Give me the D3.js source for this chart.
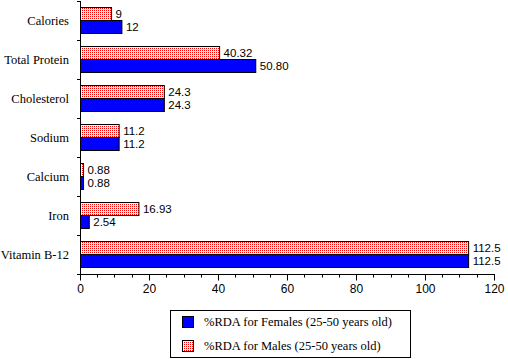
<!DOCTYPE html>
<html><head><meta charset="utf-8">
<script src="https://cdn.jsdelivr.net/npm/d3@7"></script>
<style>body{margin:0;background:#fff}svg{display:block}</style>
</head><body>
<svg id="c" width="508" height="359"></svg>
<script>
const categories = ["Calories","Total Protein","Cholesterol","Sodium","Calcium","Iron","Vitamin B-12"];
const femalesValues = [12, 50.80, 24.3, 11.2, 0.88, 2.54, 112.5];
const femalesLabels = ["12","50.80","24.3","11.2","0.88","2.54","112.5"];
const malesValues = [9, 40.32, 24.3, 11.2, 0.88, 16.93, 112.5];
const malesLabels = ["9","40.32","24.3","11.2","0.88","16.93","112.5"];
const xTicks = [0,20,40,60,80,100,120];
const xMinorTicks = d3.range(0,121,5);
const seriesNames = ["%RDA for Females (25-50 years old)","%RDA for Males (25-50 years old)"];

const svg = d3.select("#c");
const defs = svg.append("defs");
const pat = defs.append("pattern").attr("id","dots").attr("patternUnits","userSpaceOnUse")
  .attr("width",2).attr("height",2);
pat.append("rect").attr("width",2).attr("height",2).attr("fill","#fff");
pat.append("rect").attr("width",1).attr("height",1).attr("fill","#ff0000");

const x = d3.scaleLinear().domain([0,120]).range([80.5,494.5]);
const y = d3.scaleBand().domain(categories).range([1,274]).padding(0);
const sub = d3.scaleBand().domain(["m","f"]).range([6,32]).padding(0);

const serif = "'Liberation Serif','Times New Roman',serif";
const sans = "'Liberation Sans',Arial,sans-serif";

// bars
const g = svg.append("g");
categories.forEach((c,i)=>{
  const top = y(c);
  const ym = Math.round(top + sub("m")) + 0.5;
  const yf = Math.round(top + sub("f")) + 0.5;
  const h = sub.bandwidth();
  g.append("rect").attr("x",x(0)).attr("y",ym)
    .attr("width",Math.max(x(malesValues[i])-x(0),1)).attr("height",h)
    .attr("fill","url(#dots)").attr("stroke","#000").attr("stroke-width",1);
  g.append("rect").attr("x",x(0)).attr("y",yf)
    .attr("width",Math.max(x(femalesValues[i])-x(0),1)).attr("height",h)
    .attr("fill","#0000ff").attr("stroke","#000").attr("stroke-width",1);
  g.append("text").attr("x",x(malesValues[i])+4).attr("y",ym+h/2)
    .attr("dy","0.36em").attr("font-family",sans).attr("font-size",11.5).text(malesLabels[i]);
  g.append("text").attr("x",x(femalesValues[i])+4).attr("y",yf+h/2)
    .attr("dy","0.36em").attr("font-family",sans).attr("font-size",11.5).text(femalesLabels[i]);
  g.append("text").attr("x",69).attr("y",top+y.bandwidth()/2).attr("dy","0.35em")
    .attr("text-anchor","end").attr("font-family",serif).attr("font-size",12.5).text(c);
});

// y axis line + ticks
const ax = svg.append("g").attr("stroke","#000").attr("stroke-width",1);
ax.append("line").attr("x1",80.5).attr("x2",80.5).attr("y1",1).attr("y2",274.5);
const bounds = categories.map(c=>y(c)).concat([y.range()[1]]);
bounds.forEach(b=>{
  const yy = Math.round(b)+0.5;
  ax.append("line").attr("x1",77).attr("x2",80.5).attr("y1",yy).attr("y2",yy);
});

// x axis
const xa = svg.append("g").attr("transform","translate(0,274.5)");
xa.append("line").attr("x1",80).attr("x2",x(120)+0.5).attr("stroke","#000");
xMinorTicks.forEach(t=>{
  const xx = Math.round(x(t)-0.5)+0.5;
  xa.append("line").attr("x1",xx).attr("x2",xx).attr("y1",0)
    .attr("y2", xTicks.includes(t)?6:3).attr("stroke","#000");
});
xTicks.forEach(t=>{
  xa.append("text").attr("x",x(t)).attr("y",18).attr("text-anchor","middle")
    .attr("font-family",sans).attr("font-size",12).text(t);
});

// legend
const lg = svg.append("g");
lg.append("rect").attr("x",170.5).attr("y",310.5).attr("width",240).attr("height",47)
  .attr("fill","#fff").attr("stroke","#000");
lg.append("rect").attr("x",182.5).attr("y",316.5).attr("width",11).attr("height",11)
  .attr("fill","#0000ff").attr("stroke","#000");
lg.append("rect").attr("x",182.5).attr("y",340.5).attr("width",11).attr("height",11)
  .attr("fill","url(#dots)").attr("stroke","#000");
lg.append("text").attr("x",204).attr("y",322).attr("dy","0.35em").attr("font-family",serif)
  .attr("font-size",12.5).text(seriesNames[0]);
lg.append("text").attr("x",204).attr("y",346).attr("dy","0.35em").attr("font-family",serif)
  .attr("font-size",12.5).text(seriesNames[1]);
</script>
</body></html>
